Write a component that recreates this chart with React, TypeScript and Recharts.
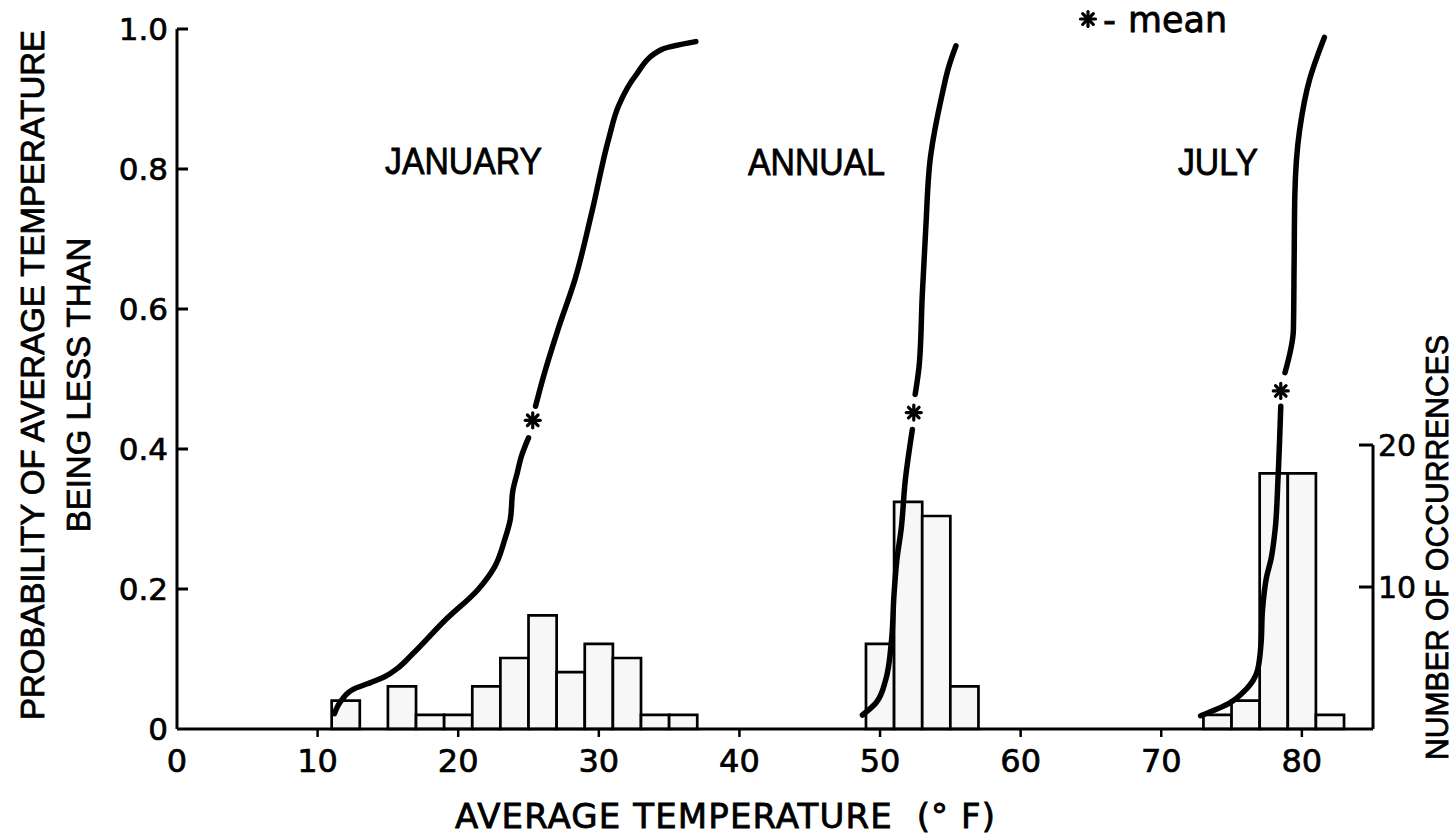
import React from 'react';
import {
  ComposedChart,
  XAxis,
  YAxis,
  Line,
  Scatter,
  ReferenceArea,
  ReferenceLine,
} from 'recharts';

// ---------- axis ticks ----------
const X_TICKS = [0, 10, 20, 30, 40, 50, 60, 70, 80];
const P_TICKS = [0, 0.2, 0.4, 0.6, 0.8, 1.0];
const N_TICKS = [10, 20];
const X_MAX = 85.06;
const N_MAX = 49.3;
const N_AXIS_TOP = 20;

// ---------- histograms (bin start °F, count) ----------
const BIN_WIDTH = 2;
const janBins = [11, 15, 17, 19, 21, 23, 25, 27, 29, 31, 33, 35];
const janCounts = [2, 3, 1, 1, 3, 5, 8, 4, 6, 5, 1, 1];
const annualBins = [49, 51, 53, 55];
const annualCounts = [6, 16, 15, 3];
const julyBins = [73, 75, 77, 79, 81];
const julyCounts = [1, 2, 18, 18, 1];

// ---------- cumulative probability curves ----------
const janLowerX = [11.2, 11.7, 12.65, 13.6, 14.8, 15.7, 16.7, 19.1, 21.4, 22.6, 23.3, 23.7, 23.9, 24.2, 24.5, 25.0];
const janLowerP = [0.022, 0.041, 0.058, 0.065, 0.075, 0.087, 0.106, 0.156, 0.199, 0.232, 0.27, 0.299, 0.342, 0.366, 0.39, 0.416];
const janUpperX = [25.5, 26.0, 27.1, 28.3, 29.5, 30.7, 31.4, 32.6, 34.5, 36.9];
const janUpperP = [0.461, 0.499, 0.571, 0.642, 0.738, 0.843, 0.89, 0.933, 0.971, 0.982];

const annLowerX = [48.75, 49.7, 50.4, 50.8, 51.0, 51.2, 51.5, 51.8, 52.3];
const annLowerP = [0.02, 0.037, 0.07, 0.123, 0.194, 0.242, 0.285, 0.356, 0.428];
const annUpperX = [52.5, 52.8, 53.0, 53.25, 53.6, 54.4, 54.9, 55.4];
const annUpperP = [0.478, 0.523, 0.618, 0.714, 0.819, 0.905, 0.947, 0.976];

const julLowerX = [72.8, 74.85, 76.0, 76.85, 77.1, 77.2, 77.5, 77.8, 78.1, 78.3, 78.5];
const julLowerP = [0.019, 0.037, 0.056, 0.084, 0.123, 0.17, 0.218, 0.242, 0.285, 0.356, 0.461];
const julUpperX = [78.8, 79.4, 79.45, 79.5, 79.85, 80.55, 81.6];
const julUpperP = [0.509, 0.571, 0.666, 0.762, 0.857, 0.928, 0.988];

// ---------- means ----------
const meanX = [25.3, 52.4, 78.5];
const meanP = [0.441, 0.452, 0.483];

// ---------- labels ----------
const seriesLabels = ['JANUARY', 'ANNUAL', 'JULY'];

const zip = (xs: number[], ps: number[]) => xs.map((x, i) => ({ x, p: ps[i] }));
const curves = [
  zip(janLowerX, janLowerP),
  zip(janUpperX, janUpperP),
  zip(annLowerX, annLowerP),
  zip(annUpperX, annUpperP),
  zip(julLowerX, julLowerP),
  zip(julUpperX, julUpperP),
];
const mkBars = (bins: number[], counts: number[]) =>
  bins.map((b, i) => ({ x1: b, x2: b + BIN_WIDTH, x: b + BIN_WIDTH / 2, n: counts[i] }));
const bars = [
  ...mkBars(janBins, janCounts),
  ...mkBars(annualBins, annualCounts),
  ...mkBars(julyBins, julyCounts),
];
const means = zip(meanX, meanP);

const TICK_FONT = '"DejaVu Sans", sans-serif';
const LABEL_FONT = '"Liberation Sans", Arial, sans-serif';

function Asterisk(props: any) {
  const { cx, cy } = props;
  const r = 7.5;
  return (
    <g stroke="#000" strokeWidth={3.2} strokeLinecap="round">
      {[0, 45, 90, 135].map((a) => {
        const rad = (a * Math.PI) / 180;
        const dx = r * Math.cos(rad);
        const dy = r * Math.sin(rad);
        return <line key={a} x1={cx - dx} y1={cy - dy} x2={cx + dx} y2={cy + dy} />;
      })}
    </g>
  );
}

function Nothing() {
  return <g />;
}

function BottomTick(props: any) {
  const { x, y, payload } = props;
  const axisY = y - 10;
  return (
    <g>
      {payload.value !== 0 && (
        <line x1={x} y1={axisY} x2={x} y2={axisY + 8} stroke="#000" strokeWidth={2.5} />
      )}
      <text x={x} y={axisY + 43} textAnchor="middle" fontSize={32} fontFamily={TICK_FONT} fill="#000" stroke="#000" strokeWidth={0.7}>
        {payload.value}
      </text>
    </g>
  );
}

function LeftTick(props: any) {
  const { x, y, payload } = props;
  const axisX = x + 10;
  const v = payload.value as number;
  return (
    <g>
      {v !== 0 && <line x1={axisX} y1={y} x2={axisX + 11} y2={y} stroke="#000" strokeWidth={3} />}
      <text x={axisX - 9} y={y} dy="0.36em" textAnchor="end" fontSize={31} fontFamily={TICK_FONT} fill="#000" stroke="#000" strokeWidth={0.7}>
        {v === 0 ? '0' : v.toFixed(1)}
      </text>
    </g>
  );
}

function RightTick(props: any) {
  const { x, y, payload } = props;
  const axisX = x - 6;
  return (
    <g>
      <line x1={axisX - 14} y1={y} x2={axisX} y2={y} stroke="#000" strokeWidth={3} />
      <text x={axisX + 5} y={y} dy="0.36em" textAnchor="start" fontSize={30} fontFamily={TICK_FONT} fill="#000" stroke="#000" strokeWidth={0.6}>
        {payload.value}
      </text>
    </g>
  );
}

export default function App() {
  return (
    <div style={{ position: 'absolute', left: 0, top: 0, width: 1455, height: 837, background: '#fff' }}>
      <ComposedChart
        width={1455}
        height={837}
        margin={{ top: 29, right: 42, bottom: 48, left: 117 }}
      >
        <XAxis
          type="number"
          dataKey="x"
          domain={[0, X_MAX]}
          ticks={X_TICKS}
          allowDataOverflow
          height={60}
          tickSize={0}
          tickMargin={10}
          tickLine={false}
          tick={<BottomTick />}
          axisLine={{ stroke: '#000', strokeWidth: 3 }}
        />
        <YAxis
          yAxisId="left"
          type="number"
          domain={[0, 1]}
          ticks={P_TICKS}
          width={60}
          tickSize={0}
          tickMargin={10}
          tickLine={false}
          tick={<LeftTick />}
          axisLine={{ stroke: '#000', strokeWidth: 3 }}
        />
        <YAxis
          yAxisId="right"
          orientation="right"
          type="number"
          domain={[0, N_MAX]}
          allowDataOverflow
          ticks={N_TICKS}
          width={40}
          tickSize={0}
          tickMargin={6}
          tickLine={false}
          tick={<RightTick />}
          axisLine={false}
        />
        {/* histogram counts, attached to the right axis */}
        <Scatter
          yAxisId="right"
          data={bars}
          dataKey="n"
          shape={<Nothing />}
          isAnimationActive={false}
        />
        {bars.map((b, i) => (
          <ReferenceArea
            key={'bar' + i}
            yAxisId="right"
            x1={b.x1}
            x2={b.x2}
            y1={0}
            y2={b.n}
            fill="#f7f7f7"
            fillOpacity={1}
            stroke="#000"
            strokeWidth={2.7}
            ifOverflow="visible"
          />
        ))}
        <ReferenceLine
          yAxisId="right"
          segment={[
            { x: X_MAX, y: 0 },
            { x: X_MAX, y: N_AXIS_TOP },
          ]}
          stroke="#000"
          strokeWidth={3}
          ifOverflow="visible"
        />
        {curves.map((c, i) => (
          <Line
            key={'curve' + i}
            yAxisId="left"
            data={c}
            dataKey="p"
            type="monotoneY"
            stroke="#000"
            strokeWidth={5.5}
            strokeLinecap="round"
            dot={false}
            activeDot={false}
            isAnimationActive={false}
          />
        ))}
        <Scatter
          yAxisId="left"
          data={means}
          dataKey="p"
          shape={<Asterisk />}
          isAnimationActive={false}
        />
      </ComposedChart>
      <svg
        width={1455}
        height={837}
        style={{ position: 'absolute', left: 0, top: 0, pointerEvents: 'none' }}
      >
        <g stroke="#000" strokeWidth={0.8}>
          <text x={385} y={174} fontSize={36} fontFamily={LABEL_FONT} textLength={157} lengthAdjust="spacingAndGlyphs">
            {seriesLabels[0]}
          </text>
          <text x={748} y={175} fontSize={36} fontFamily={LABEL_FONT} textLength={137} lengthAdjust="spacingAndGlyphs">
            {seriesLabels[1]}
          </text>
          <text x={1178} y={175} fontSize={36} fontFamily={LABEL_FONT} textLength={80} lengthAdjust="spacingAndGlyphs">
            {seriesLabels[2]}
          </text>
          <text x={1103} y={32} fontSize={36} fontFamily={TICK_FONT}>-</text>
          <text x={1128} y={32} fontSize={36} fontFamily={TICK_FONT} textLength={99} lengthAdjust="spacingAndGlyphs">
            mean
          </text>
          <text
            x={32}
            y={375}
            transform="rotate(-90 32 375)"
            textAnchor="middle"
            dominantBaseline="central"
            fontSize={33}
            fontFamily={LABEL_FONT}
            textLength={690}
            lengthAdjust="spacingAndGlyphs"
          >
            PROBABILITY OF AVERAGE TEMPERATURE
          </text>
          <text
            x={78}
            y={385}
            transform="rotate(-90 78 385)"
            textAnchor="middle"
            dominantBaseline="central"
            fontSize={33}
            fontFamily={LABEL_FONT}
          >
            BEING LESS THAN
          </text>
          <text
            x={1437}
            y={760}
            transform="rotate(-90 1437 760)"
            textAnchor="start"
            dominantBaseline="central"
            fontSize={31}
            fontFamily={LABEL_FONT}
            textLength={425}
            lengthAdjust="spacingAndGlyphs"
          >
            NUMBER OF OCCURRENCES
          </text>
          <text
            x={455}
            y={828}
            fontSize={34}
            fontFamily={TICK_FONT}
            textLength={540}
            lengthAdjust="spacing"
          >
            {'AVERAGE TEMPERATURE\u00A0\u00A0(\u00B0\u00A0F)'}
          </text>
        </g>
        <Asterisk cx={1088} cy={19} />
      </svg>
    </div>
  );
}
